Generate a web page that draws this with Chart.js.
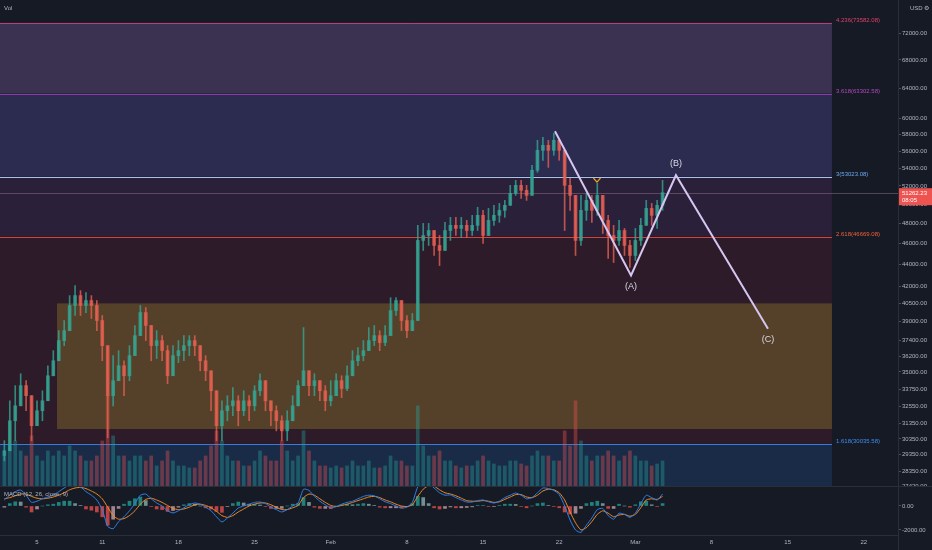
<!DOCTYPE html>
<html>
<head>
<meta charset="utf-8">
<script src="https://cdn.jsdelivr.net/npm/chart.js@4.4.1/dist/chart.umd.min.js"></script>
<style>
html,body{margin:0;padding:0;background:#161a25;width:932px;height:550px;overflow:hidden}
#c1{position:absolute;left:0;top:0}
#c2{position:absolute;left:0;top:486px}
</style>
</head>
<body>
<canvas id="c1" width="932" height="486"></canvas>
<canvas id="c2" width="932" height="64"></canvas>
<script>
// ---------------- DATA ----------------
// 12h candles, day-of-year 2021 (Jan 1 = 1)
const candleStartDay = 2.0;
const candleStepDays = 0.5;
const firstOpen = 29300;
const candleCloses = [
29600,31550,32570,34000,33280,31220,32230,32920,34720,35850,
37420,38220,40320,41180,40320,40750,40320,39050,37020,33280,
34360,35470,34720,36240,37820,39720,38640,37020,37420,36630,
34720,36240,36630,37020,37420,37020,35850,35090,33630,31220,
32230,32570,32920,32230,32920,32570,33630,34360,32920,32230,
31550,30880,31550,32570,34000,35090,34000,34360,33630,32920,
33280,34360,33790,34720,35850,36240,36630,37420,37820,37260,
37820,39890,40750,39050,38220,39050,46310,46800,47300,45820,
45330,47300,47820,47510,47820,47300,47820,48850,46800,48330,
48850,49370,49900,51190,52070,51520,50970,53770,56100,56700,
56100,57310,56100,52070,50970,46310,49370,50430,49370,50970,
48330,46800,46310,47300,45820,44850,46310,47820,49580,48850,
49900,51262.23];
const candleHighs = [
30240,32920,34000,34870,34360,33280,32920,33630,35470,36630,
38220,39050,41180,42070,41620,41440,41180,40750,39470,36630,
36240,36630,35850,37020,38640,40320,40150,38640,38220,37820,
37020,37020,37420,37820,37820,37820,37020,36240,35090,33280,
32920,33280,33860,33280,33630,33280,34000,34870,34360,32920,
32570,31890,32230,33280,34360,38470,35090,34870,34360,34000,
34360,34870,34720,35470,36630,36860,37420,38470,38640,38220,
38640,41000,41000,40320,39470,39640,47820,48020,48020,47300,
46800,48130,48640,48640,48640,48330,48850,49690,49370,49580,
49900,50110,50430,52070,52630,52630,52070,54340,57310,57680,
57310,58180,57310,56100,52860,50430,50970,51190,50970,52300,
50970,48850,47820,48330,47510,46310,47510,48540,50430,50110,
50430,52630];
const candleLows = [
28970,29920,30240,32920,32230,30240,31220,31550,32920,34720,
36630,37020,38640,39470,39470,39720,39220,38220,35850,30430,
32570,34360,33280,34360,36630,38220,37420,35850,36010,35850,
34140,35090,35700,35850,36240,36240,35090,34360,32230,30240,
30240,31550,31890,31220,31890,31550,32230,33280,32230,31220,
30880,30240,30240,31890,32570,34000,33280,33280,32920,32230,
32570,33280,33140,33630,35090,35470,35850,36630,37020,36630,
37020,38220,39470,38220,37660,38640,39050,45330,45820,44850,
43900,45330,46310,46800,46600,46600,46800,47300,46020,47300,
47820,48130,48640,49900,50970,50650,50430,50970,53540,54920,
54100,55500,54920,47300,49370,44850,45820,48330,48130,48850,
47000,44570,44180,45820,44850,43720,44370,45820,47820,47820,
47510,49370];
const candleVolumes = [
30,40,45,35,30,50, 30,25,35,30,35,30, 40,35,30,25,25,30, 45,90,50,30,30,25,
30,30,25,30,20,25, 35,25,20,20,18,18, 25,30,40,55,45,30, 25,25,20,20,25,35,
30,25,25,45,35,25, 30,55,35,25,20,20, 18,20,18,20,25,20, 20,25,18,18,20,30,
25,25,20,20,80,40, 30,30,35,25,25,20, 18,20,20,25,30,25, 22,20,20,25,25,22,
20,30,35,30,30,25, 25,55,40,85,45,30, 25,30,30,35,30,25, 30,35,30,25,25,20,22,25];

const macdLine = [
500,900,1200,1330,900,300,400,600,750,900,
1200,1500,1750,1700,1580,1200,900,500,-300,-1700,
-1900,-1300,-900,-400,200,900,1000,600,250,0,
-400,-580,-400,-150,100,250,150,-100,-400,-900,
-1330,-1000,-600,-170,0,150,300,330,200,-100,
-300,-500,-300,0,250,1400,1300,800,400,100,
-170,-50,150,300,400,600,800,900,850,600,
350,200,0,-170,-100,300,1600,2100,1900,1500,
1100,900,920,700,500,330,330,450,500,350,
250,400,700,900,1080,900,600,700,1100,1500,
1450,1300,950,0,-1170,-2000,-2200,-1600,-1000,-300,
-200,-800,-1100,-600,-700,-950,-600,200,900,700,
500,1000];
const signalLine = [
600,700,850,1000,1000,800,650,600,650,750,
900,1100,1350,1500,1550,1450,1250,1000,600,-100,
-800,-1100,-1050,-800,-400,150,550,650,500,300,
50,-200,-300,-250,-100,100,150,50,-150,-450,
-800,-950,-800,-500,-250,0,150,250,250,100,
-100,-300,-300,-150,50,700,1000,900,600,300,
50,-50,50,150,300,450,600,750,800,700,
500,350,150,0,-50,100,800,1400,1700,1650,
1350,1100,1000,850,650,450,400,400,450,400,
300,350,550,750,950,950,750,700,900,1250,
1400,1350,1100,500,-500,-1400,-2000,-1800,-1300,-700,
-400,-600,-900,-750,-700,-850,-700,-150,500,600,
550,800];
const macdHist = [
-100,200,350,330,-100,-500,-250,0,100,150,
300,400,400,200,30,-250,-350,-500,-900,-1600,
-1100,-200,150,400,600,750,450,-50,-250,-300,
-450,-380,-100,100,200,150,0,-150,-250,-450,
-530,-50,200,330,250,150,150,80,-50,-200,
-200,-200,0,150,200,700,300,-100,-200,-200,
-220,0,100,150,100,150,200,150,50,-100,
-150,-150,-150,-170,-50,200,800,700,200,-150,
-250,-200,-80,-150,-150,-120,-70,50,50,-50,
-50,50,150,150,130,-50,-150,0,200,250,
50,-50,-150,-500,-670,-600,-200,200,300,400,
200,-200,-200,150,0,-100,100,350,400,100,
-50,200];

const priceTicks = [72000,68000,64000,60000,58000,56000,54000,52000,50000,48000,46000,44000,42000,
  40500,39000,37400,36200,35000,33750,32550,31350,30350,29350,28350,27420];
const macdTicks = [0, -2000];
const timeTickDays = [5,11,18,25,32,39,46,53,60,67,74,81];
const timeTickLabels = ['5','11','18','25','Feb','8','15','22','Mar','8','15','22'];

const fibRatios = ['4.236','3.618','3','2.618','1.618'];
const fibPrices = [73582.08,63302.58,53023.08,46669.08,30035.58];
const fibEndDay = 78.07;
const zoneStartDay = 6.84;
const zoneTop = 40500;
const zoneBottom = 31000;

const waveDays = [52.61, 59.6, 63.73, 72.19];
const wavePrices = [58430, 42980, 53200, 38380];
const waveLabels = ['', '(A)', '(B)', '(C)'];
const markDay = 56.47, markPrice = 52600;
const lastPrice = 51262.23, lastTime = '08:05';

// ---------------- STYLE ----------------
const FONT = "'Liberation Sans', Arial, sans-serif";
const BG = '#161a25';
const TXT = '#b2b5be';
const AXIS_W = 34;
const X_MIN = 1.6, X_MAX = 84.14;
const PRICE_MIN = 27460, PRICE_MAX = 77250;
const MACD_MIN = -2417, MACD_MAX = 1583;
const UP = 'rgba(52,165,148,0.8)', DOWN = 'rgba(232,96,82,0.78)';
const UPV = 'rgba(38,166,154,0.38)', DOWNV = 'rgba(239,83,80,0.38)';
const fibBandColors = ['#3b3150','#2c2b50','#2a2039','#2d1b29','#1a2b48'];
const fibLineColors = ['#b8407a','#8c3aa8','#a9c2ec','#d8413c','#3a7ad8'];
const fibLabelColors = ['#e0406e','#b048c0','#6aaaf0','#f0603a','#3d8ef0'];
const ZONE_COLOR = 'rgba(140,120,45,0.42)';

Chart.defaults.font.family = FONT;

const candleDays = candleCloses.map((_, i) => candleStartDay + i * candleStepDays);
const candleOpens = candleCloses.map((c, i) => i === 0 ? firstOpen : candleCloses[i - 1]);
const isUp = candleCloses.map((c, i) => c >= candleOpens[i]);

const bodyData = candleDays.map((d, i) => ({x: d, y: [candleOpens[i], candleCloses[i]]}));
const wickData = candleDays.map((d, i) => ({x: d, y: [
  Math.min(candleLows[i], candleOpens[i], candleCloses[i]),
  Math.max(candleHighs[i], candleOpens[i], candleCloses[i])]}));
const volData = candleDays.map((d, i) => ({x: d, y: candleVolumes[i]}));

const mainPaint = {
  id: 'mainPaint',
  beforeDraw(chart) {
    const {ctx, chartArea: a, scales} = chart;
    const xs = scales.x, ys = scales.y;
    ctx.save();
    ctx.fillStyle = BG; ctx.fillRect(0, 0, chart.width, chart.height);
    const xL = a.left, xR = xs.getPixelForValue(fibEndDay);
    const bounds = fibPrices.concat([PRICE_MIN]);
    for (let i = 0; i < fibBandColors.length; i++) {
      const t = ys.getPixelForValue(bounds[i]);
      const b = Math.min(ys.getPixelForValue(bounds[i + 1]), a.bottom);
      ctx.fillStyle = fibBandColors[i];
      ctx.fillRect(xL, t, xR - xL, b - t);
    }
    const zx = xs.getPixelForValue(zoneStartDay);
    const zt = ys.getPixelForValue(zoneTop), zb = ys.getPixelForValue(zoneBottom);
    ctx.fillStyle = ZONE_COLOR; ctx.fillRect(zx, zt, xR - zx, zb - zt);
    ctx.font = `6px ${FONT}`; ctx.textBaseline = 'middle'; ctx.textAlign = 'left';
    fibPrices.forEach((p, i) => {
      const yy = Math.round(ys.getPixelForValue(p)) + 0.5;
      ctx.strokeStyle = fibLineColors[i]; ctx.lineWidth = 1;
      ctx.beginPath(); ctx.moveTo(xL, yy); ctx.lineTo(xR, yy); ctx.stroke();
      ctx.fillStyle = fibLabelColors[i];
      ctx.fillText(`${fibRatios[i]}(${p.toFixed(2)})`, xR + 4, yy - 3.5);
    });
    const ly = Math.round(ys.getPixelForValue(lastPrice)) + 0.5;
    ctx.strokeStyle = 'rgba(190,150,175,0.35)';
    ctx.beginPath(); ctx.moveTo(xL, ly); ctx.lineTo(a.right, ly); ctx.stroke();
    ctx.restore();
  },
  afterDraw(chart) {
    const {ctx, chartArea: a, scales} = chart;
    const xs = scales.x, ys = scales.y;
    ctx.save();
    ctx.font = `9px ${FONT}`; ctx.fillStyle = '#d9d9e3';
    ctx.textAlign = 'center'; ctx.textBaseline = 'middle';
    waveLabels.forEach((lab, i) => {
      if (!lab) return;
      const px = xs.getPixelForValue(waveDays[i]);
      const py = ys.getPixelForValue(wavePrices[i]);
      ctx.fillText(lab, px, py + (lab === '(B)' ? -12 : 11));
    });
    const mx = xs.getPixelForValue(markDay), my = ys.getPixelForValue(markPrice);
    ctx.strokeStyle = '#f5a623'; ctx.lineWidth = 1.3;
    ctx.beginPath(); ctx.moveTo(mx - 3.5, my - 2.5); ctx.lineTo(mx, my + 1.5); ctx.lineTo(mx + 3.5, my - 2.5); ctx.stroke();
    ctx.font = `6px ${FONT}`; ctx.fillStyle = TXT; ctx.textAlign = 'left';
    ctx.fillText('Vol', 4, 8);
    ctx.fillText('USD', 910, 8);
    ctx.fillText('⚙', 924, 8);
    ctx.strokeStyle = '#2a2e39'; ctx.lineWidth = 1;
    ctx.beginPath(); ctx.moveTo(a.right + 0.5, 0); ctx.lineTo(a.right + 0.5, chart.height); ctx.stroke();
    const py = ys.getPixelForValue(lastPrice);
    ctx.fillStyle = '#ef5350';
    ctx.fillRect(a.right + 1, py - 4.5, AXIS_W, 17);
    ctx.fillStyle = '#ffffff';
    ctx.fillText(lastPrice.toFixed(2), a.right + 4, py + 0.5);
    ctx.fillText(lastTime, a.right + 4, py + 8);
    ctx.restore();
  }
};

new Chart(document.getElementById('c1'), {
  type: 'bar',
  data: { datasets: [
    { label: 'Volume', yAxisID: 'yVol', data: volData, grouped: false, barThickness: 3, order: 3,
      backgroundColor: isUp.map(u => u ? UPV : DOWNV), borderWidth: 0 },
    { label: 'Wick', yAxisID: 'y', data: wickData, grouped: false, barThickness: 1, order: 2,
      backgroundColor: isUp.map(u => u ? UP : DOWN), borderWidth: 0 },
    { label: 'Body', yAxisID: 'y', data: bodyData, grouped: false, barThickness: 3, order: 1,
      backgroundColor: isUp.map(u => u ? UP : DOWN), borderWidth: 0 },
    { type: 'line', label: 'Wave', yAxisID: 'y', order: 0,
      data: waveDays.map((d, i) => ({x: d, y: wavePrices[i]})),
      borderColor: '#d4c6f0', borderWidth: 2, pointRadius: 0, tension: 0 }
  ]},
  options: {
    responsive: false, animation: false, devicePixelRatio: 1,
    layout: { padding: 0 },
    plugins: { legend: { display: false }, tooltip: { enabled: false } },
    scales: {
      x: { type: 'linear', min: X_MIN, max: X_MAX, offset: false, display: false },
      y: { type: 'logarithmic', position: 'right', min: PRICE_MIN, max: PRICE_MAX, beginAtZero: false,
        afterBuildTicks: s => { s.ticks = priceTicks.map(v => ({value: v})); },
        afterFit: s => { s.width = AXIS_W; s.paddingTop = 0; s.paddingBottom = 0; },
        ticks: { callback: v => Number(v).toFixed(2), color: TXT, font: { size: 6, family: FONT },
          padding: 1, autoSkip: false, maxRotation: 0 },
        grid: { drawOnChartArea: false, drawTicks: true, tickLength: 3, color: '#4a4e5a' },
        border: { display: false } },
      yVol: { type: 'linear', display: false, min: 0, max: 485 }
    }
  },
  plugins: [mainPaint]
});

const histColors = macdHist.map((h, i) => {
  const prev = i === 0 ? h : macdHist[i - 1];
  if (h >= 0) return h >= prev ? 'rgba(38,166,154,0.75)' : 'rgba(178,223,219,0.6)';
  return h < prev ? 'rgba(239,83,80,0.75)' : 'rgba(255,205,210,0.6)';
});

const macdPaint = {
  id: 'macdPaint',
  beforeDraw(chart) {
    const {ctx} = chart;
    ctx.save(); ctx.fillStyle = BG; ctx.fillRect(0, 0, chart.width, chart.height); ctx.restore();
  },
  afterDraw(chart) {
    const {ctx, chartArea: a} = chart;
    ctx.save();
    ctx.strokeStyle = '#2a2e39'; ctx.lineWidth = 1;
    ctx.beginPath(); ctx.moveTo(0, 0.5); ctx.lineTo(chart.width, 0.5); ctx.stroke();
    ctx.beginPath(); ctx.moveTo(a.right + 0.5, 0); ctx.lineTo(a.right + 0.5, chart.height); ctx.stroke();
    ctx.font = `6px ${FONT}`; ctx.fillStyle = TXT; ctx.textAlign = 'left'; ctx.textBaseline = 'middle';
    ctx.fillText('MACD (12, 26, close, 9)', 4, 8);
    ctx.restore();
  }
};

new Chart(document.getElementById('c2'), {
  type: 'bar',
  data: { datasets: [
    { type: 'line', label: 'MACD', order: 0, data: candleDays.map((d, i) => ({x: d, y: macdLine[i]})),
      borderColor: '#2f7fe8', borderWidth: 1, pointRadius: 0, tension: 0.2 },
    { type: 'line', label: 'Signal', order: 1, data: candleDays.map((d, i) => ({x: d, y: signalLine[i]})),
      borderColor: '#f08a24', borderWidth: 1, pointRadius: 0, tension: 0.2 },
    { label: 'Histogram', order: 2, data: candleDays.map((d, i) => ({x: d, y: macdHist[i]})),
      grouped: false, barThickness: 3, backgroundColor: histColors, borderWidth: 0 }
  ]},
  options: {
    responsive: false, animation: false, devicePixelRatio: 1,
    layout: { padding: { top: 1 } },
    plugins: { legend: { display: false }, tooltip: { enabled: false } },
    scales: {
      x: { type: 'linear', min: X_MIN, max: X_MAX, offset: false, position: 'bottom',
        afterBuildTicks: s => { s.ticks = timeTickDays.map(v => ({value: v})); },
        afterFit: s => { s.height = 15; s.paddingLeft = 0; s.paddingRight = 0; },
        ticks: { callback: v => timeTickLabels[timeTickDays.indexOf(v)] ?? '', color: TXT,
          font: { size: 6, family: FONT }, padding: 4, autoSkip: false, maxRotation: 0 },
        grid: { display: false, drawTicks: false },
        border: { display: true, color: '#2a2e39' } },
      y: { type: 'linear', position: 'right', min: MACD_MIN, max: MACD_MAX, beginAtZero: false,
        afterBuildTicks: s => { s.ticks = macdTicks.map(v => ({value: v})); },
        afterFit: s => { s.width = AXIS_W; s.paddingTop = 0; s.paddingBottom = 0; },
        ticks: { callback: v => Number(v).toFixed(2), color: TXT, font: { size: 6, family: FONT },
          padding: 1, autoSkip: false },
        grid: { drawOnChartArea: false, drawTicks: true, tickLength: 3, color: '#4a4e5a' },
        border: { display: false } }
    }
  },
  plugins: [macdPaint]
});
</script>
</body>
</html>
